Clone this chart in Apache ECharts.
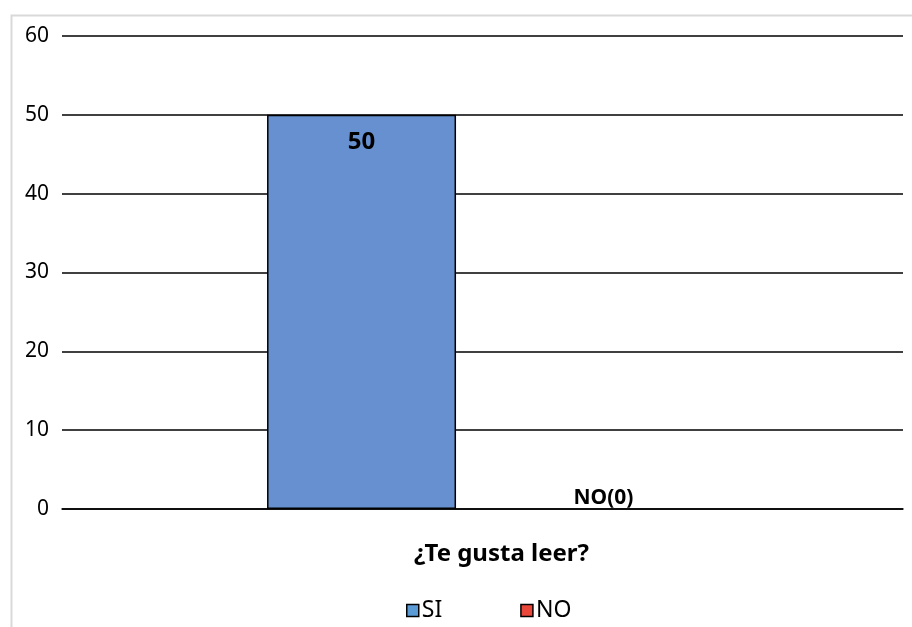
<!DOCTYPE html>
<html><head><meta charset="utf-8">
<script src="https://cdn.jsdelivr.net/npm/echarts@6/dist/echarts.min.js"></script>
<style>html,body{margin:0;padding:0;background:#fff}#c{width:912px;height:627px}</style>
</head><body><div id="c"></div>
<script>
const categories = ['¿Te gusta leer?'];
const seriesNames = ['SI', 'NO'];
const siValues = [50];
const noValues = [0];
const yTicks = [0, 10, 20, 30, 40, 50, 60];

const chart = echarts.init(document.getElementById('c'));
const font = 'Noto Sans, Liberation Sans, sans-serif';
chart.setOption({
  animation: false,
  graphic: [{type: 'rect', shape: {x: 11.5, y: 15.5, width: 920, height: 700}, style: {fill: 'none', stroke: '#d9d9d9', lineWidth: 2}}],
  grid: {left: 62, right: 9, top: 36, bottom: 118, containLabel: false},
  legend: {
    top: 594, left: 401, itemGap: 78, itemWidth: 12, itemHeight: 12,
    textStyle: {fontFamily: font, fontSize: 23, color: '#000', padding: [0, 0, 0, -2]},
    data: [
      {name: 'SI', icon: 'rect', itemStyle: {color: '#5B9BD5', borderColor: '#000', borderWidth: 1.5}},
      {name: 'NO', icon: 'rect', itemStyle: {color: '#E8473A', borderColor: '#000', borderWidth: 1.5}}
    ]
  },
  xAxis: {
    type: 'category', data: categories,
    axisLine: {lineStyle: {color: '#000', width: 1.5}}, axisTick: {show: false},
    axisLabel: {show: false},
    name: categories[0], nameLocation: 'middle', nameGap: 33,
    nameTextStyle: {fontFamily: font, fontSize: 24, fontWeight: 'bold', color: '#000', padding: [0, 0, 0, 38]}
  },
  yAxis: {
    type: 'value', min: yTicks[0], max: yTicks[yTicks.length - 1], interval: 10,
    axisLine: {show: false}, axisTick: {show: false},
    axisLabel: {fontFamily: font, fontSize: 21, color: '#000', margin: 13},
    splitLine: {lineStyle: {color: '#000', width: 1.5}}
  },
  series: [
    {name: seriesNames[0], type: 'bar', data: siValues, barWidth: 189, barGap: '28%',
     itemStyle: {color: '#6690CF', borderColor: '#000', borderWidth: 1.5},
     label: {show: true, position: 'insideTop', distance: 15, fontFamily: font, fontSize: 24, fontWeight: 'bold', color: '#000'}},
    {name: seriesNames[1], type: 'bar', data: noValues, barWidth: 189,
     itemStyle: {color: '#E8473A', borderColor: '#000', borderWidth: 0},
     label: {show: true, position: 'top', distance: 0, fontFamily: font, fontSize: 21, fontWeight: 'bold', color: '#000',
             formatter: p => p.seriesName + '(' + p.value + ')'}}
  ]
});
</script></body></html>
